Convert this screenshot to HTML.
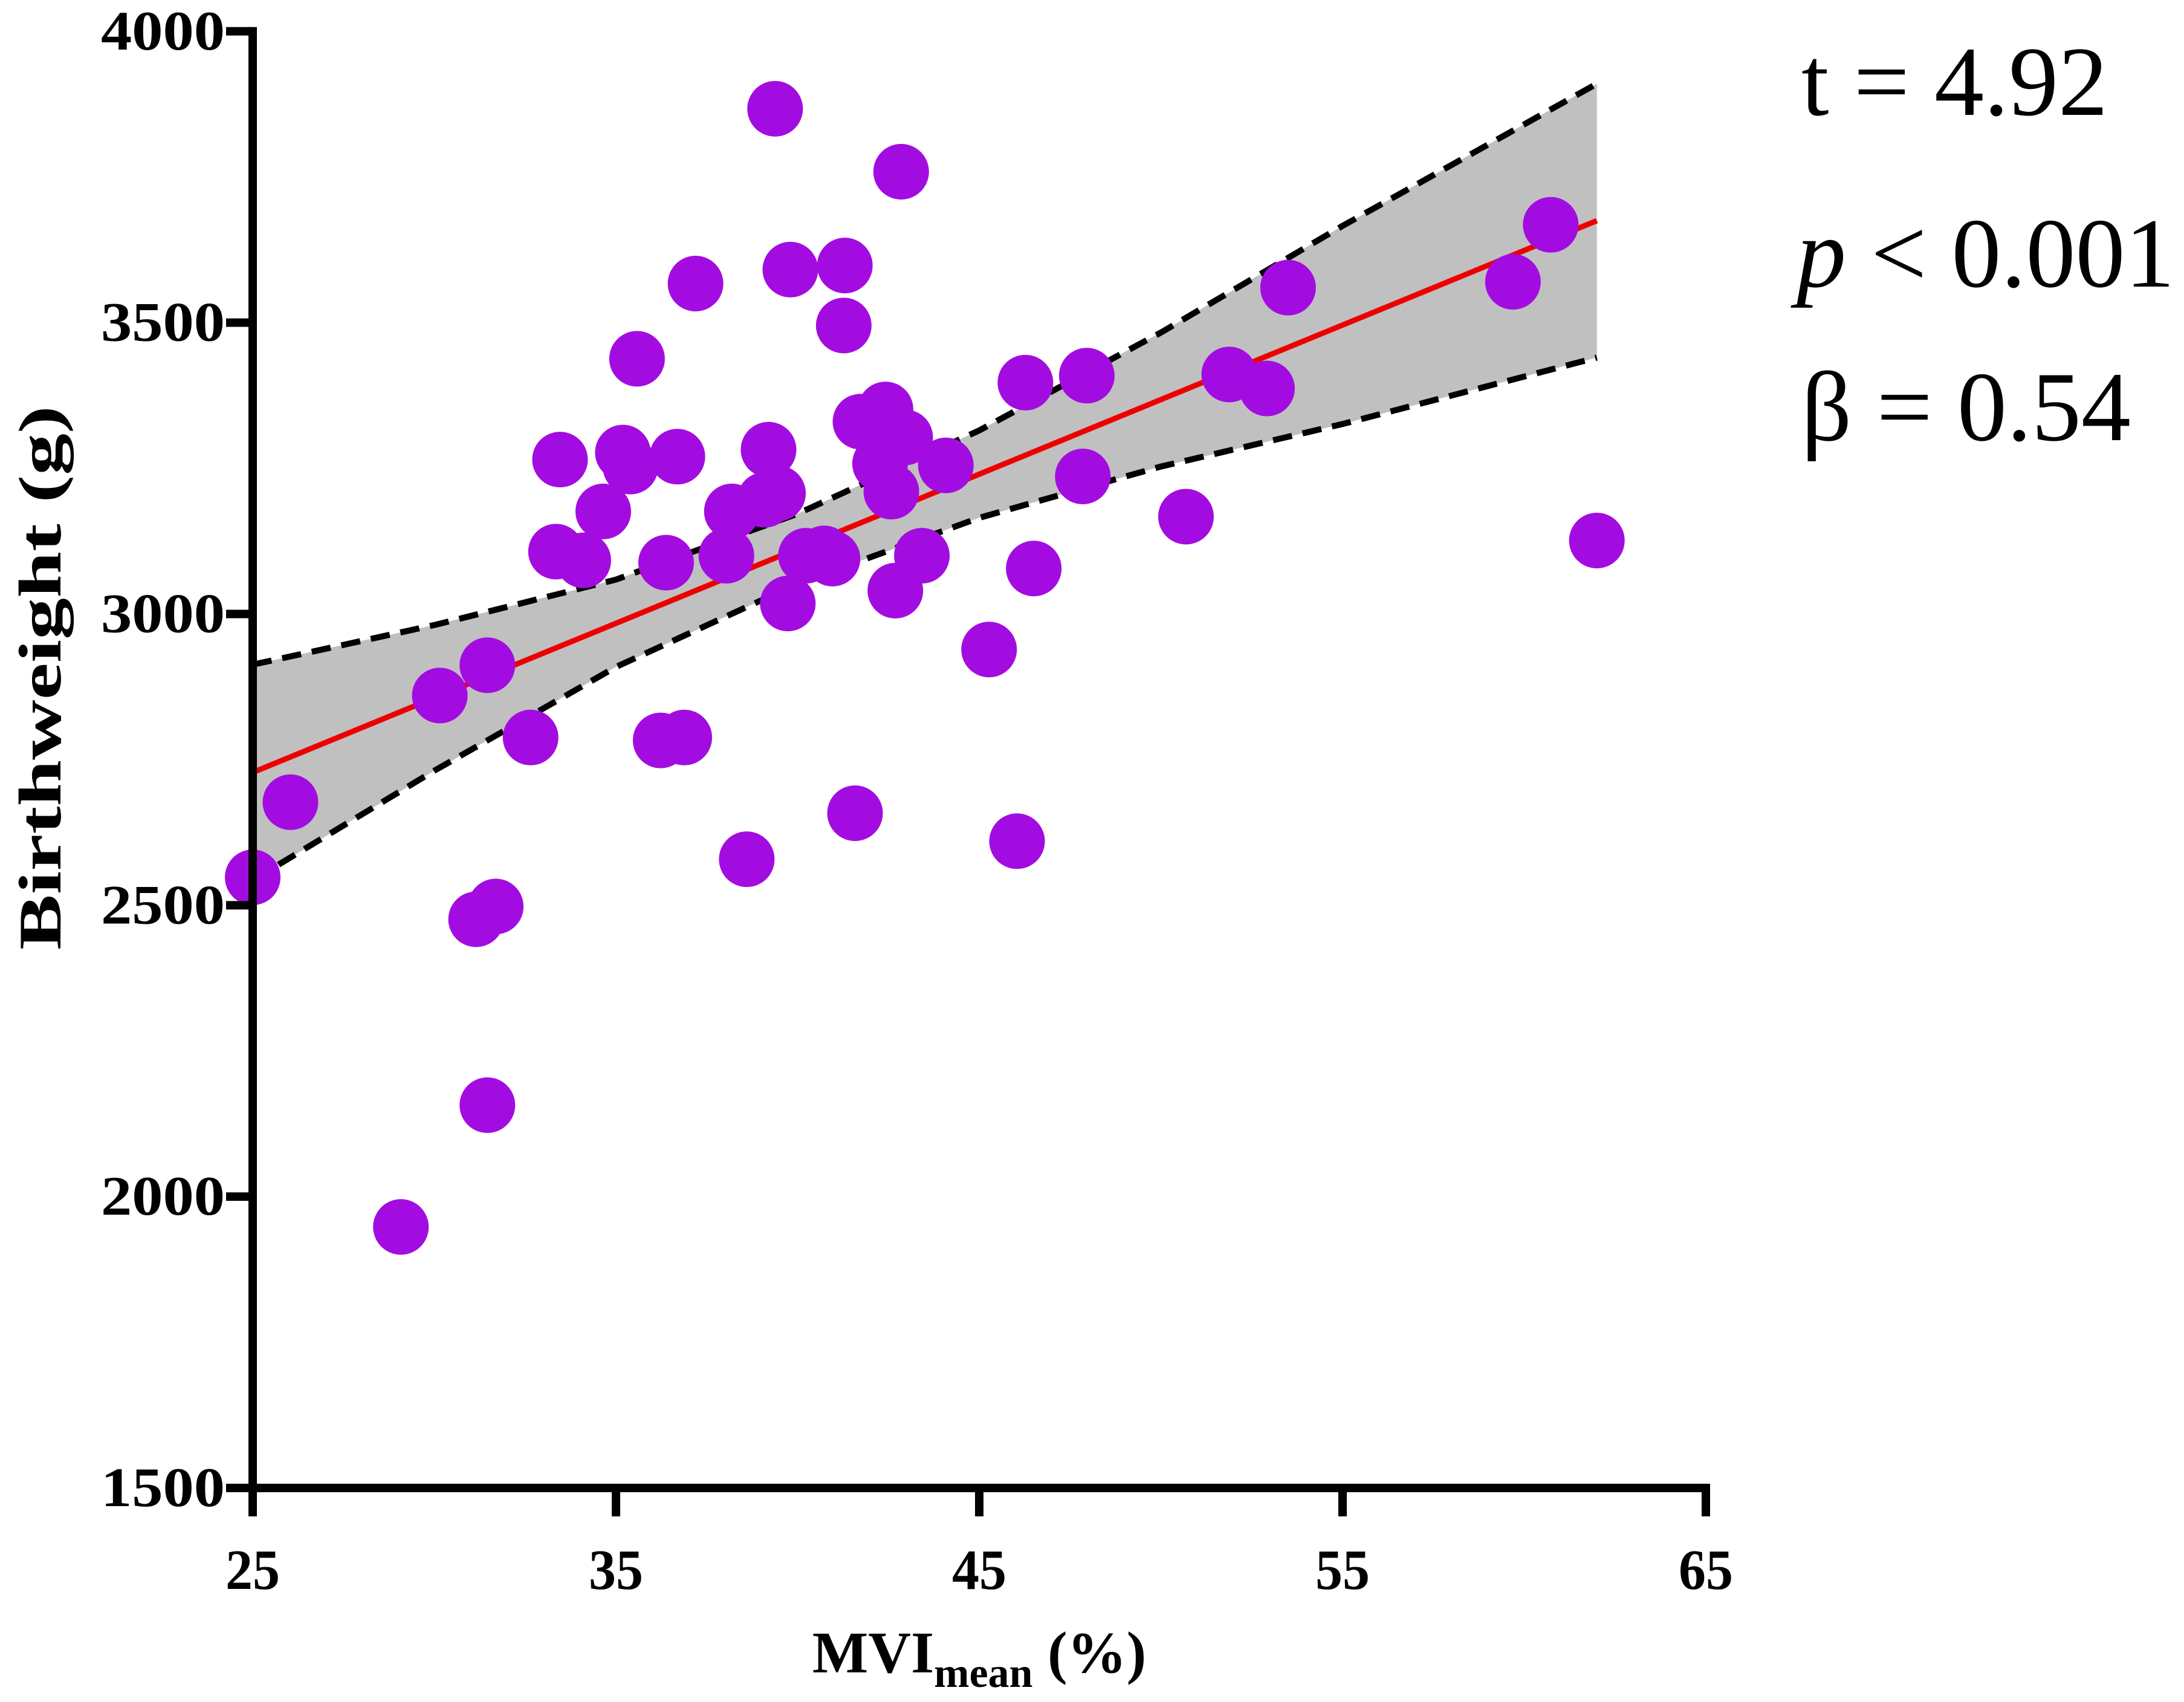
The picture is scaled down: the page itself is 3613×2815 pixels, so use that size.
<!DOCTYPE html>
<html><head><meta charset="utf-8"><style>
html,body{margin:0;padding:0;background:#fff;}
svg{display:block;}
</style></head><body>
<svg id="chart" width="3613" height="2815" viewBox="0 0 3613 2815" xmlns="http://www.w3.org/2000/svg">
<g id="band"></g>
<g id="lines"></g>
<g id="points"></g>
<g id="axes"></g>
<text x="0" y="0" transform="translate(100,1121) rotate(-90)" text-anchor="middle" font-family="Liberation Serif, serif" font-weight="bold" font-size="100" textLength="900" lengthAdjust="spacingAndGlyphs">Birthweight (g)</text>
<text x="1620" y="2766" text-anchor="middle" font-family="Liberation Serif, serif" font-weight="bold" font-size="98">MVI<tspan font-size="70" dy="24">mean</tspan><tspan dy="-24"> (%)</tspan></text>
<text x="2980" y="190" font-family="Liberation Serif, serif" font-size="164">t = 4.92</text>
<text x="2972" y="474" font-family="Liberation Serif, serif" font-size="164"><tspan font-style="italic">p</tspan> &lt; 0.001</text>
<text x="2980" y="728" font-family="Liberation Serif, serif" font-size="164">β = 0.54</text>
</svg>
<script>
const xVals=[25,26.04,29.08,30.15,31.46,31.15,31.69,31.46,32.65,33.46,33.35,34.1,34.65,35.19,35.4,35.58,36.38,36.23,36.88,36.69,37.19,38.04,38.19,38.6,39.1,39.2,39.46,39.38,39.8,39.73,40.23,40.73,40.96,41.3,41.27,41.58,41.73,42.42,42.27,42.96,42.58,42.69,42.85,44.08,43.42,45.27,46.04,46.27,46.5,47.85,47.96,50.69,51.88,52.92,53.5,59.69,60.73,62.0];
const yVals=[2548,2677,1948,2860,2912,2476,2498,2157,2788,3265,3107,3092,3176,3277,3253,3438,3088,2783,2788,3270,3567,3100,3176,2579,3196,3282,3207,3867,3591,3018,3100,3104,3095,3598,3495,2658,3330,3351,3258,3303,3210,3040,3759,3255,3100,2939,2610,3397,3078,3236,3409,3167,3411,3387,3560,3570,3668,3126];
const fitX=[25,62];
const fitY=[2728,3675];
const bandX=[25,30,35,40,45,50,55,62];
const bandUpper=[2913,2981,3059,3172,3315,3483,3666,3910];
const bandLower=[2543,2731,2909,3052,3165,3253,3326,3440];
const xTicks=[25,35,45,55,65];
const yTicks=[1500,2000,2500,3000,3500,4000];

const NS='http://www.w3.org/2000/svg';
function sx(v){return 418+(v-25)*60.1;}
function sy(v){return 2461-(v-1500)*0.9637;}
function mk(tag,attrs,parent){const e=document.createElementNS(NS,tag);for(const k in attrs)e.setAttribute(k,attrs[k]);parent.appendChild(e);return e;}
function poly(xs,ys){
  let d='';
  for(let i=0;i<xs.length;i++){d+=(i?'L':'M')+sx(xs[i]).toFixed(1)+','+sy(ys[i]).toFixed(1);}
  return d;
}
const band=document.getElementById('band');
let bd=poly(bandX,bandUpper);
for(let i=bandX.length-1;i>=0;i--)bd+='L'+sx(bandX[i]).toFixed(1)+','+sy(bandLower[i]).toFixed(1);
bd+='Z';
const bp=mk('path',{d:bd,fill:'#c0c0c0'},band);


const lines=document.getElementById('lines');
const up=mk('path',{d:poly(bandX,bandUpper),fill:'none',stroke:'#000','stroke-width':10,'stroke-dasharray':'32 18'},lines);


const lo=mk('path',{d:poly(bandX,bandLower),fill:'none',stroke:'#000','stroke-width':10,'stroke-dasharray':'32 18'},lines);


const fl=mk('line',{x1:sx(fitX[0]),y1:sy(fitY[0]),x2:sx(fitX[1]),y2:sy(fitY[1]),stroke:'#ee0000','stroke-width':9},lines);


const pts=document.getElementById('points');
for(let i=0;i<xVals.length;i++){
  const c=mk('circle',{cx:sx(xVals[i]),cy:sy(yVals[i]),r:46,fill:'#a30ce0'},pts);
  
  
}
const ax=document.getElementById('axes');
const ya=mk('line',{x1:418,y1:sy(4000)-7,x2:418,y2:2468,stroke:'#000','stroke-width':14},ax);


const xa=mk('line',{x1:411,y1:2461,x2:sx(65)+7,y2:2461,stroke:'#000','stroke-width':14},ax);


yTicks.forEach(v=>{
  const t=mk('line',{x1:374,y1:sy(v),x2:418,y2:sy(v),stroke:'#000','stroke-width':14},ax);
  
  
  const l=mk('text',{x:372,y:sy(v)+30,'text-anchor':'end','font-family':'Liberation Serif, serif','font-weight':'bold','font-size':92,'textLength':205,'lengthAdjust':'spacingAndGlyphs'},ax);
  l.textContent=v;
  
  
});
xTicks.forEach(v=>{
  const t=mk('line',{x1:sx(v),y1:2461,x2:sx(v),y2:2508,stroke:'#000','stroke-width':14},ax);
  
  
  const l=mk('text',{x:sx(v),y:2628,'text-anchor':'middle','font-family':'Liberation Serif, serif','font-weight':'bold','font-size':94,'textLength':90,'lengthAdjust':'spacingAndGlyphs'},ax);
  l.textContent=v;
  
  
});
</script>
</body></html>
